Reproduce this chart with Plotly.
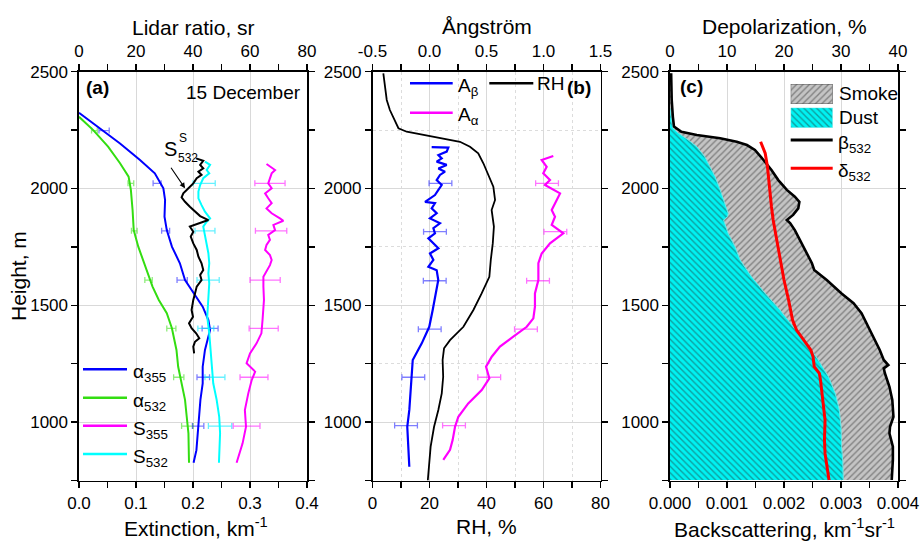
import plotly.graph_objects as go

FONT = "Liberation Sans, Arial, sans-serif"
W, H = 920, 541

# ---------------- panel (a): extinction / lidar ratio ----------------
a355_h = [2324, 2300, 2250, 2193, 2122, 2065, 2001, 1951, 1879, 1822, 1751, 1680, 1608, 1551,
          1494, 1437, 1394, 1366, 1309, 1237, 1166, 1095, 1023, 952, 880, 826]
a355 = [0.000, 0.013, 0.040, 0.072, 0.107, 0.133, 0.148, 0.151, 0.150, 0.154, 0.163, 0.177, 0.186,
        0.201, 0.217, 0.227, 0.230, 0.227, 0.221, 0.217, 0.217, 0.213, 0.211, 0.208, 0.206, 0.201]

a532_h = [2307, 2250, 2179, 2108, 2051, 1994, 1908, 1822, 1751, 1666, 1580, 1523, 1466, 1402,
          1309, 1237, 1166, 1095, 1023, 952, 826]
a532 = [0.000, 0.025, 0.051, 0.072, 0.087, 0.091, 0.094, 0.096, 0.104, 0.116, 0.129, 0.140, 0.154,
        0.163, 0.171, 0.174, 0.180, 0.186, 0.189, 0.192, 0.193]

s355_h = [2105, 2079, 2065, 2044, 2022, 2001, 1979, 1958, 1937, 1915, 1894, 1872, 1862, 1844, 1822,
          1801, 1780, 1758, 1737, 1715, 1694, 1672, 1644, 1622, 1580, 1523, 1437, 1380, 1337, 1294,
          1252, 1216, 1180, 1123, 1052, 980, 909, 826]
s355 = [65.8, 68.8, 67.6, 67.0, 66.4, 67.6, 65.3, 66.4, 67.6, 65.8, 67.6, 70.5, 71.7, 68.2, 68.8,
        66.4, 67.0, 65.8, 65.3, 67.0, 67.6, 67.0, 65.8, 64.7, 64.7, 64.9, 64.4, 64.0, 62.3, 60.0,
        58.8, 61.8, 60.6, 59.4, 58.2, 58.6, 57.4, 55.3]

s532_h = [2115, 2101, 2079, 2065, 2044, 2015, 1987, 1958, 1929, 1901, 1872, 1858, 1837, 1808, 1765,
          1723, 1680, 1637, 1594, 1537, 1494, 1451, 1380, 1309, 1237, 1166, 1095, 1023, 952, 870, 826]
s532 = [44.2, 46.0, 44.8, 45.7, 43.6, 42.5, 41.9, 41.9, 43.0, 44.2, 46.0, 44.8, 43.6, 44.0, 44.6,
        45.4, 45.7, 45.4, 45.7, 45.4, 45.4, 45.0, 45.7, 46.2, 46.6, 47.1, 48.3, 49.2, 49.5, 49.3, 49.1]

s532s_h = [2129, 2119, 2101, 2086, 2072, 2058, 2044, 2022, 2001, 1979, 1962, 1943, 1922, 1901, 1882,
           1865, 1851, 1837, 1815, 1794, 1765, 1737, 1708, 1680, 1651, 1630, 1608, 1580, 1551, 1523,
           1480, 1451, 1423, 1402, 1380, 1359, 1344, 1323, 1294]
s532s = [41.1, 43.6, 42.5, 43.6, 41.9, 43.0, 41.3, 40.1, 38.4, 36.6, 36.0, 37.2, 38.9, 40.7, 42.5,
         45.4, 42.5, 38.9, 40.1, 39.2, 40.1, 41.3, 41.9, 43.0, 43.6, 42.5, 43.0, 41.3, 40.7, 40.1,
         39.5, 40.0, 38.6, 39.5, 41.1, 42.2, 40.7, 40.1, 40.4]

# error bars (a)
err_a_h = [2248, 2022, 1819, 1608, 1401, 1192, 983]
err_a355_c = [0.044, 0.137, 0.152, 0.181, 0.230, 0.218, 0.209]
err_a355_e = [0.009, 0.007, 0.007, 0.009, 0.014, 0.011, 0.010]
err_a532_c = [0.027, 0.091, 0.097, 0.122, 0.162, 0.175, 0.190]
err_a532_e = [0.005, 0.005, 0.005, 0.0065, 0.008, 0.009, 0.010]
err_s_h = [2022, 1819, 1608, 1401, 1192, 983]
err_s355_c = [67.0, 67.4, 65.3, 64.8, 61.4, 58.8]
err_s355_e = [5.3, 5.5, 5.3, 5.1, 4.9, 4.7]
err_s532_c = [43.9, 44.2, 45.3, 44.5, 47.7, 49.5]
err_s532_e = [3.9, 3.5, 3.9, 2.8, 3.5, 4.1]

# ---------------- panel (b): Angstrom / RH ----------------
rh_h = [2493, 2436, 2379, 2336, 2293, 2258, 2243, 2229, 2215, 2200, 2179, 2151, 2108, 2065, 2008,
        1951, 1908, 1837, 1765, 1694, 1622, 1551, 1480, 1408, 1351, 1316, 1266, 1194, 1123, 1052,
        980, 895, 809, 750]
rh = [3.8, 4.4, 5.0, 6.1, 7.9, 9.1, 12.0, 17.8, 24.8, 30.7, 34.2, 37.1, 38.9, 40.3, 42.4, 43.0,
      41.8, 42.6, 42.2, 41.5, 41.0, 38.3, 35.4, 31.9, 27.2, 25.1, 24.6, 24.8, 24.3, 23.1, 21.6,
      20.4, 19.8, 19.4]

ab_h = [2177, 2175, 2158, 2143, 2129, 2115, 2101, 2086, 2072, 2058, 2036, 2015, 1994, 1972, 1943,
        1937, 1915, 1894, 1872, 1851, 1830, 1808, 1787, 1765, 1744, 1722, 1694, 1665, 1650, 1608,
        1551, 1480, 1408, 1337, 1266, 1194, 1123, 1052, 980, 895, 809]
ab = [0.019, 0.165, 0.151, 0.078, 0.107, 0.063, 0.151, 0.078, 0.136, 0.092, 0.063, 0.107, 0.078,
      0.048, -0.039, 0.048, 0.019, 0.063, 0.004, 0.092, 0.034, 0.048, -0.010, 0.034, 0.078, 0.004,
      0.034, -0.010, 0.063, 0.077, 0.057, 0.028, -0.002, -0.068, -0.147, -0.156, -0.171, -0.177,
      -0.195, -0.186, -0.177]

aa_h = [2139, 2122, 2093, 2065, 2036, 2015, 1979, 1951, 1908, 1879, 1844, 1808, 1765, 1722, 1680,
        1651, 1608, 1551, 1494, 1444, 1408, 1366, 1323, 1280, 1237, 1187, 1137, 1080, 1023, 980,
        923, 881, 838]
aa = [1.086, 0.984, 1.028, 0.998, 1.057, 1.013, 1.145, 1.116, 1.072, 1.101, 1.072, 1.174, 1.057,
      0.984, 0.955, 0.955, 0.955, 0.925, 0.925, 0.911, 0.853, 0.735, 0.618, 0.546, 0.496, 0.525,
      0.458, 0.340, 0.253, 0.224, 0.203, 0.180, 0.121]

err_b_h = [2022, 1815, 1605, 1398, 1192, 985]
err_ab_c = [0.096, 0.048, 0.046, 0.002, -0.142, -0.206]
err_aa_c = [1.031, 1.104, 0.952, 0.846, 0.524, 0.215]
err_b_e = [0.10, 0.10, 0.10, 0.10, 0.10, 0.10]
ang_ticks = [-0.5, 0.0, 0.5, 1.0, 1.5]
ang_labels = ['-0.5', '0.0', '0.5', '1.0', '1.5']

# ---------------- panel (c): backscatter / depolarization ----------------
beta_h = [2493, 2379, 2307, 2265, 2243, 2229, 2215, 2200, 2186, 2165, 2122, 2079, 2036, 1994, 1965,
          1943, 1915, 1887, 1865, 1851, 1822, 1765, 1722, 1680, 1651, 1608, 1551, 1509, 1466, 1408,
          1351, 1309, 1266, 1244, 1230, 1209, 1151, 1095, 1023, 980, 952, 895, 838, 752]
beta = [0.00002, 0.00003, 0.00005, 0.00007, 0.00020, 0.00047, 0.00088, 0.00117, 0.00135, 0.00149,
        0.00164, 0.00178, 0.00190, 0.00205, 0.00219, 0.00227, 0.00225, 0.00216, 0.00205, 0.00211,
        0.00219, 0.00231, 0.00240, 0.00249, 0.00253, 0.00275, 0.00301, 0.00322, 0.00336, 0.00348,
        0.00360, 0.00368, 0.00375, 0.00383, 0.00375, 0.00377, 0.00385, 0.00390, 0.00392, 0.00386,
        0.00385, 0.00391, 0.00391, 0.00389]

dust_h = [2343, 2300, 2258, 2236, 2208, 2179, 2136, 2093, 2051, 1994, 1937, 1894, 1880, 1865, 1808,
          1751, 1694, 1622, 1551, 1480, 1408, 1337, 1266, 1194, 1123, 1052, 980, 895, 838, 752]
dust = [0.0, 0.00002, 0.00005, 0.00015, 0.00032, 0.00047, 0.00061, 0.00070, 0.00079, 0.00088,
        0.00096, 0.00102, 0.00101, 0.00094, 0.00102, 0.00114, 0.00123, 0.00143, 0.00167, 0.00193,
        0.00216, 0.00240, 0.00260, 0.00278, 0.00290, 0.00297, 0.00300, 0.00301, 0.00303, 0.00304]

delta_h = [2200, 2151, 2093, 2008, 1922, 1865, 1780, 1694, 1608, 1523, 1437, 1394, 1351, 1309, 1280,
           1237, 1209, 1180, 1095, 1009, 923, 866, 752]
delta = [15.9, 16.7, 17.1, 17.4, 17.8, 18.1, 18.7, 19.4, 20.0, 20.8, 21.5, 22.2, 23.4, 24.7, 25.1,
         25.3, 26.2, 26.4, 26.8, 27.2, 27.1, 27.2, 27.9]

# ---------------- styles ----------------
BLUE = '#0000ff'
GREEN = '#33dd11'
MAG = '#ff00ff'
CYAN = '#00ffff'
GRID = '#d9d9d9'


def PX(px):
    return px / W


def PY(py):
    return 1 - py / H


YD = [PY(480.5), PY(71.7)]
XA = [PX(79), PX(307)]
XB = [PX(372.5), PX(600.5)]
XC = [PX(670), PX(898)]

fig = go.Figure()


def add_line(x, y, xa, ya, color, width=2.0):
    fig.add_trace(go.Scatter(x=x, y=y, xaxis=xa, yaxis=ya, mode='lines',
                             line=dict(color=color, width=width), showlegend=False,
                             hoverinfo='skip'))


def add_err(xc, hh, err, xa, ya, color):
    fig.add_trace(go.Scatter(x=xc, y=hh, xaxis=xa, yaxis=ya, mode='markers',
                             marker=dict(size=2, color='rgba(0,0,0,0)'),
                             error_x=dict(type='data', array=err, color=color,
                                          thickness=1.3, width=3),
                             showlegend=False, hoverinfo='skip'))


# panel (a)
add_err(err_a532_c, err_a_h, err_a532_e, 'x', 'y', 'rgba(51,221,17,0.55)')
add_err(err_a355_c, err_a_h, err_a355_e, 'x', 'y', 'rgba(0,0,255,0.5)')
add_err(err_s532_c, err_s_h, err_s532_e, 'x2', 'y', 'rgba(0,230,255,0.6)')
add_err(err_s355_c, err_s_h, err_s355_e, 'x2', 'y', 'rgba(255,0,255,0.55)')
add_line(a532, a532_h, 'x', 'y', GREEN)
add_line(a355, a355_h, 'x', 'y', BLUE)
add_line(s355, s355_h, 'x2', 'y', MAG)
add_line(s532, s532_h, 'x2', 'y', CYAN)
add_line(s532s, s532s_h, 'x2', 'y', 'black')

# panel (b)
add_err(err_ab_c, err_b_h, err_b_e, 'x4', 'y2', 'rgba(0,0,255,0.5)')
add_err(err_aa_c, err_b_h, err_b_e, 'x4', 'y2', 'rgba(255,0,255,0.55)')
add_line(rh, rh_h, 'x3', 'y2', 'black', 1.8)
add_line(ab, ab_h, 'x4', 'y2', BLUE, 2.2)
add_line(aa, aa_h, 'x4', 'y2', MAG, 2.2)

# panel (c)
fig.add_trace(go.Scatter(x=beta, y=beta_h, xaxis='x5', yaxis='y3', mode='lines',
                         line=dict(width=0, color='rgba(0,0,0,0)'), fill='tozerox',
                         fillpattern=dict(shape='/', bgcolor='#c4c4c4', fgcolor='#3c3c3c',
                                          size=4.5, solidity=0.3),
                         showlegend=False, hoverinfo='skip'))
fig.add_trace(go.Scatter(x=dust, y=dust_h, xaxis='x5', yaxis='y3', mode='lines',
                         line=dict(width=1, color='#66e8e8'), fill='tozerox',
                         fillpattern=dict(shape='\\', bgcolor='#00f2f2', fgcolor='#1e4646',
                                          size=4.5, solidity=0.3),
                         showlegend=False, hoverinfo='skip'))
add_line(beta, beta_h, 'x5', 'y3', 'black', 2.6)
add_line(delta, delta_h, 'x6', 'y3', '#ff0000', 3.0)

# legend swatches for Smoke / Dust (panel c)
fig.add_trace(go.Bar(x=[0], y=[1], width=[1], xaxis='x7', yaxis='y4',
                     marker=dict(color='#c4c4c4',
                                 pattern=dict(shape='/', bgcolor='#c4c4c4', fgcolor='#3c3c3c',
                                              size=4.5, solidity=0.3),
                                 line=dict(color='#555555', width=1)),
                     showlegend=False, hoverinfo='skip'))
fig.add_trace(go.Bar(x=[0], y=[1], width=[1], xaxis='x8', yaxis='y5',
                     marker=dict(color='#00f2f2',
                                 pattern=dict(shape='\\', bgcolor='#00f2f2', fgcolor='#1e4646',
                                              size=4.5, solidity=0.3),
                                 line=dict(color='#66e8e8', width=1)),
                     showlegend=False, hoverinfo='skip'))

TF = dict(size=17, family=FONT, color='black')
base = dict(showline=True, linecolor='black', linewidth=1.6, ticks='outside', ticklen=6,
            tickwidth=1.4, tickcolor='black', tickfont=TF, zeroline=False, automargin=False,
            fixedrange=True)


def xbottom(domain, rng, dtick, mdt, anchor, fmt, mgrid=False):
    d = dict(base)
    d.update(domain=domain, range=rng, dtick=dtick, tick0=0, tickformat=fmt, anchor=anchor,
             showgrid=True, gridcolor=GRID, gridwidth=1,
             minor=dict(dtick=mdt, ticks='outside', ticklen=6, tickwidth=1.4, tickcolor='black',
                        showgrid=mgrid, gridcolor='#dcdcdc', griddash='dot', gridwidth=1))
    return d


def xtop(over, rng, dtick, mdt, anchor, **kw):
    d = dict(base)
    d.update(overlaying=over, side='top', range=rng, dtick=dtick, tick0=0, anchor=anchor,
             showgrid=False,
             minor=dict(dtick=mdt, ticks='outside', ticklen=6, tickwidth=1.4, tickcolor='black',
                        showgrid=False))
    d.update(kw)
    return d


def yax(anchor, mgrid=False):
    d = dict(base)
    d.update(domain=YD, range=[750, 2500], dtick=500, tick0=0, anchor=anchor, mirror='ticks',
             showgrid=True, gridcolor=GRID, gridwidth=1,
             minor=dict(dtick=250, ticks='outside', ticklen=6, tickwidth=1.4, tickcolor='black',
                        showgrid=mgrid, gridcolor='#dcdcdc', griddash='dot', gridwidth=1))
    return d


hidden = dict(visible=False, fixedrange=True)

fig.update_layout(
    width=W, height=H, margin=dict(l=0, r=0, t=0, b=0),
    paper_bgcolor='white', plot_bgcolor='rgba(0,0,0,0)',
    font=dict(family=FONT, color='black'), showlegend=False, bargap=0,
    xaxis=xbottom(XA, [0, 0.4], 0.1, 0.05, 'y', '.1f'),
    xaxis2=xtop('x', [0, 80], 20, 10, 'y'),
    yaxis=yax('x'),
    xaxis3=xbottom(XB, [0, 80], 20, 10, 'y2', 'd', mgrid=True),
    xaxis4=xtop('x3', [-0.5, 1.5], 0.5, 0.25, 'y2', tickmode='array', tickvals=ang_ticks,
                ticktext=ang_labels),
    yaxis2=yax('x3', mgrid=True),
    xaxis5=xbottom(XC, [0, 0.004], 0.001, 0.0005, 'y3', '.3f'),
    xaxis6=xtop('x5', [0, 40], 10, 5, 'y3'),
    yaxis3=yax('x5'),
    xaxis7=dict(hidden, domain=[PX(790.7), PX(832.7)], range=[-0.5, 0.5], anchor='y4'),
    yaxis4=dict(hidden, domain=[PY(104), PY(84)], range=[0, 1], anchor='x7'),
    xaxis8=dict(hidden, domain=[PX(790.7), PX(832.7)], range=[-0.5, 0.5], anchor='y5'),
    yaxis5=dict(hidden, domain=[PY(127.7), PY(107.7)], range=[0, 1], anchor='x8'),
)

ann = []


def text(px, py, s, size=19, xanchor='center', yanchor='middle', angle=0, bold=False):
    if bold:
        s = '<b>' + s + '</b>'
    ann.append(dict(x=PX(px), y=PY(py), xref='paper', yref='paper', text=s, showarrow=False,
                    xanchor=xanchor, yanchor=yanchor, textangle=angle,
                    font=dict(size=size, family=FONT, color='black')))


# axis titles
text(193, 28, 'Lidar ratio, sr', 21)
text(196, 526.5, 'Extinction, km<sup>-1</sup>', 21)
text(18, 276, 'Height, m', 21, angle=-90)
text(486.5, 27, 'Ångström', 21)
text(486.5, 526.5, 'RH, %', 21)
text(784, 27, 'Depolarization, %', 21)
text(784, 527.5, 'Backscattering, km<sup>-1</sup>sr<sup>-1</sup>', 21)

# panel labels
text(84, 87, '(a)', 19, xanchor='left', bold=True)
text(303, 93, '15 December', 19, xanchor='right')
text(593, 87, '(b)', 19, xanchor='right', bold=True)
text(678, 86, '(c)', 19, xanchor='left', bold=True)

# S532^S label with arrow
text(170, 149, 'S', 20)
text(183, 138, 'S', 12)
text(188, 158, '532', 12)
ann.append(dict(x=37.2, y=2001, xref='x2', yref='y', text='', showarrow=True, ax=-15, ay=-22,
                axref='pixel', ayref='pixel', arrowhead=2, arrowsize=1, arrowwidth=1.1,
                arrowcolor='black'))

# legend (a)
shapes = []


def leg_line(x0, x1, py, color, width=2.5):
    shapes.append(dict(type='line', xref='paper', yref='paper', x0=PX(x0), x1=PX(x1),
                       y0=PY(py), y1=PY(py), line=dict(color=color, width=width)))


leg_a = [('α<sub>355</sub>', BLUE, 369.3), ('α<sub>532</sub>', GREEN, 397.7),
         ('S<sub>355</sub>', MAG, 425.7), ('S<sub>532</sub>', CYAN, 454.0)]
for lab, col, py in leg_a:
    leg_line(83, 127, py, col)
    text(131, py + 4, lab, 19, xanchor='left')

# legend (b)
leg_line(410, 452.7, 83.3, BLUE)
text(456, 87, 'A<sub>β</sub>', 19, xanchor='left')
leg_line(489.3, 533.3, 83.3, 'black')
text(535, 84, 'RH', 19, xanchor='left')
leg_line(410, 452.7, 112.7, MAG)
text(456, 116, 'A<sub>α</sub>', 19, xanchor='left')

# legend (c)
text(837, 93.5, 'Smoke', 19, xanchor='left')
text(837, 117.5, 'Dust', 19, xanchor='left')
leg_line(790.7, 832.7, 140, 'black', 3)
text(836, 144, 'β<sub>532</sub>', 19, xanchor='left')
leg_line(790.7, 832.7, 168.3, '#ff0000', 3)
text(836, 172, 'δ<sub>532</sub>', 19, xanchor='left')

fig.update_layout(annotations=ann, shapes=shapes)

fig.write_html("out.html", config={'displayModeBar': False, 'staticPlot': True},
               post_script="document.body.style.margin='0px';document.body.style.overflow='hidden';")
